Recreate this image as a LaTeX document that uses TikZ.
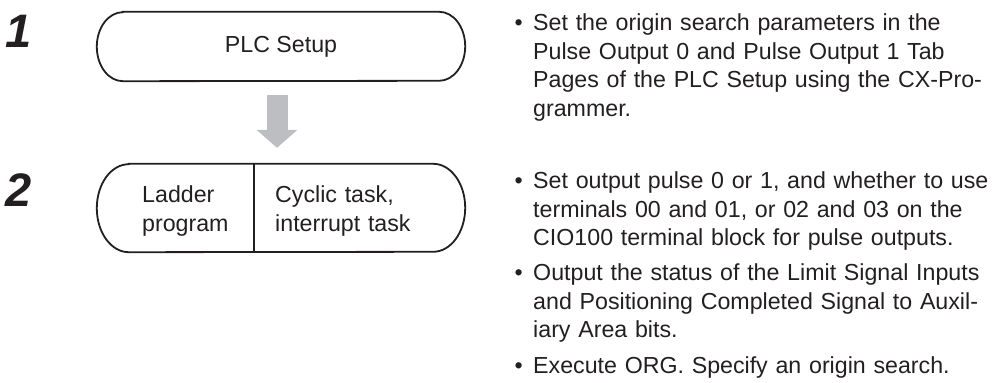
\documentclass[tikz,border=0pt]{standalone}
\usepackage{fontspec}
\setmainfont{Liberation Sans}
\usepackage{xcolor}
\definecolor{boxink}{RGB}{35,31,32}
\definecolor{arrowgray}{RGB}{189,190,194}
\usepackage{tikz}
\usetikzlibrary{arrows.meta, positioning}
\newcommand{\bodyfont}{\fontsize{23.2}{28.5}\selectfont}
\newcommand{\numfont}{\fontsize{47}{47}\selectfont\bfseries\itshape}
\newcommand{\capsuleline}[3]{%
  \draw[boxline] ([xshift=#2]#1.north west) -- ([xshift=-#2]#1.north east)
    arc[start angle=90, end angle=-90, x radius=#2, y radius=#3]
    -- ([xshift=#2]#1.south west)
    arc[start angle=270, end angle=90, x radius=#2, y radius=#3] -- cycle;}

\begin{document}
\begin{tikzpicture}[
  x=1pt, y=1pt,
  every node/.style={text=boxink},
  boxline/.style={draw=boxink, line width=1.8pt},
  capsule/.style={inner sep=0pt, font=\bodyfont, minimum width=368},
  celltext/.style={inner sep=0pt, font=\bodyfont, text width=180, align=left, anchor=base west},
  stepnum/.style={inner sep=0pt, font=\numfont, anchor=base west},
  item/.style={inner sep=0pt, font=\bodyfont, text width=470, align=left, anchor=base west},
  dot/.style={inner sep=0pt, font=\bodyfont, anchor=base east},
  flowarrow/.style={draw=arrowgray, line width=21pt, -{Triangle[width=40pt, length=18pt, fill=arrowgray]}}
]
  \useasboundingbox (0,0) rectangle (994,383);

  \node[stepnum] (one) at (5,335) {1};
  \node[stepnum] (two) at (5,176) {2};

  \node[capsule, minimum height=69] (setup) at (281,336.5) {PLC Setup};
  \capsuleline{setup}{26}{34.5}

  \node[capsule, minimum height=88] (prog) at (281,175) {};
  \capsuleline{prog}{32}{44}
  \coordinate (split) at (254,175);
  \draw[draw=boxink, line width=1.2pt] (split |- prog.north) -- (split |- prog.south);
  \node[celltext] (ladder) at (142,180) {Ladder\\program};
  \node[celltext] (task) at (275,180) {Cyclic task,\\interrupt task};

  \draw[flowarrow] ([xshift=-4pt, yshift=-14pt]setup.south) -- ([xshift=-4pt, yshift=16pt]prog.north);

  \node[item] (origin) at (533,352) {Set the origin search parameters in the\\Pulse Output 0 and Pulse Output 1 Tab\\Pages of the PLC Setup using the CX-Pro-\\grammer.};
  \node[item] (pulse) at (533,194) {Set output pulse 0 or 1, and whether to use\\terminals 00 and 01, or 02 and 03 on the\\CIO100 terminal block for pulse outputs.};
  \node[item] (limit) at (533,102) {Output the status of the Limit Signal Inputs\\and Positioning Completed Signal to Auxil-\\iary Area bits.};
  \node[item] (org) at (533,9) {Execute ORG. Specify an origin search.};

  \foreach \n in {origin, pulse, limit, org}
    \node[dot] at ([xshift=-10pt]\n.base west) {•};
\end{tikzpicture}
\end{document}
